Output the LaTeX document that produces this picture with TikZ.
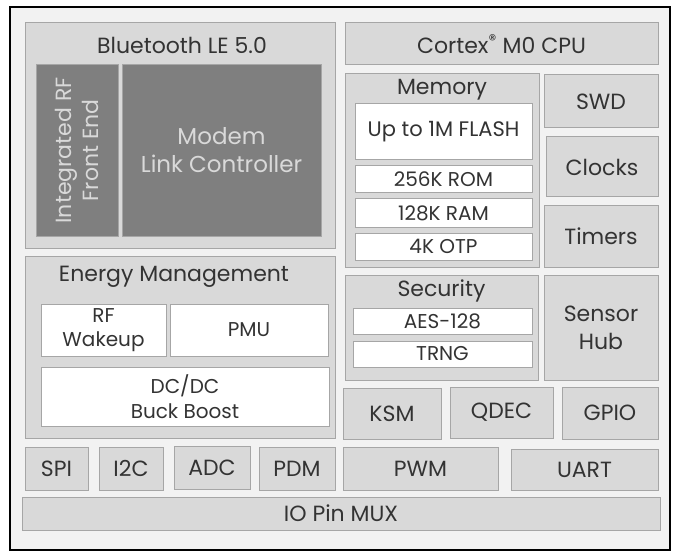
\documentclass[tikz,border=0pt]{standalone}
\usepackage{fontspec}
\setmainfont{Poppins}
\usepackage{xcolor}
\usepackage{tikz}
\usetikzlibrary{positioning}
\definecolor{blkfill}{HTML}{D9D9D9}
\definecolor{blkline}{HTML}{A6A6A6}
\definecolor{darkfill}{HTML}{7F7F7F}
\definecolor{txtgray}{HTML}{333333}
\definecolor{chipfill}{HTML}{F2F2F2}

\begin{document}
\begin{tikzpicture}[x=1pt, y=-1pt, font=\fontsize{22}{25}\selectfont, text=txtgray,
  blk/.style={draw=blkline, fill=blkfill, line width=1pt, align=center, inner sep=0pt},
  dark/.style={draw=blkline, fill=darkfill, line width=1pt, align=center, inner sep=0pt, text=blkfill},
  wbox/.style={draw=blkline, fill=white, line width=1pt, align=center, inner sep=0pt},
  small/.style={font=\fontsize{20}{22}\selectfont},
  ttl/.style={inner sep=0pt}]
  \useasboundingbox (0,0) rectangle (677,556);
  % chip outline
  \node[draw=black, fill=chipfill, line width=2pt, minimum width=660pt, minimum height=543pt, inner sep=0pt] (chip) at (340,278.5) {};
  % radio
  \node[blk, minimum width=310pt, minimum height=225pt] (bt) at (180,135.5) {};
  \node[ttl] (btt) at (182,45) {Bluetooth LE 5.0};
  \node[dark, minimum width=82pt, minimum height=171pt] (rf) at (77,150.5) {};
  \node[ttl, rotate=90, align=center, text=blkfill, font=\fontsize{22}{27}\selectfont] (rft) at (rf.center) {Integrated RF\\Front End};
  \node[dark, minimum width=199pt, minimum height=171pt, font=\fontsize{23}{28}\selectfont] (modem) at (221.5,150.5) {Modem\\Link Controller};
  % cpu and memory
  \node[blk, minimum width=313pt, minimum height=42pt] (cpu) at (501.5,44) {Cortex\textsuperscript{\textregistered} M0 CPU};
  \node[blk, minimum width=194pt, minimum height=193pt] (mem) at (442,170.5) {};
  \node[ttl] (memt) at (442,90) {Memory};
  \node[wbox, font=\fontsize{21}{24}\selectfont, minimum width=177pt, minimum height=56pt] (flash) at (443.5,132) {Up to 1M FLASH};
  \node[wbox, small, minimum width=177pt, minimum height=27pt] (rom) at (443.5,179.5) {256K ROM};
  \node[wbox, small, minimum width=177pt, minimum height=28pt] (ram) at (443.5,213) {128K RAM};
  \node[wbox, small, minimum width=177pt, minimum height=27pt] (otp) at (443.5,246.5) {4K OTP};
  \node[blk, minimum width=114pt, minimum height=53pt] (swd) at (601,101.5) {SWD};
  \node[blk, minimum width=112pt, minimum height=60pt] (clk) at (602,167) {Clocks};
  \node[blk, minimum width=114pt, minimum height=61pt] (tmr) at (601,236.5) {Timers};
  % power
  \node[blk, minimum width=310pt, minimum height=182pt] (pwr) at (180,347) {};
  \node[ttl] (pwrt) at (174,277) {Energy Management};
  \node[wbox, minimum width=125pt, minimum height=52pt, font=\fontsize{20}{24}\selectfont] (wake) at (103.5,330) {RF\\Wakeup};
  \node[wbox, minimum width=158pt, minimum height=52pt, font=\fontsize{20}{24}\selectfont] (pmu) at (249,330) {PMU};
  \node[wbox, minimum width=288pt, minimum height=59pt, font=\fontsize{20}{25}\selectfont] (dcdc) at (185,396.5) {DC/DC\\Buck Boost};
  % security
  \node[blk, minimum width=193pt, minimum height=105pt] (sec) at (441.5,327.5) {};
  \node[ttl] (sect) at (441.5,291) {Security};
  \node[wbox, small, minimum width=179pt, minimum height=26pt] (aes) at (442.5,321) {AES-128};
  \node[wbox, small, minimum width=179pt, minimum height=26pt] (trng) at (442.5,354) {TRNG};
  \node[blk, minimum width=114pt, minimum height=105pt, font=\fontsize{22}{28}\selectfont] (hub) at (601,327.5) {Sensor\\Hub};
  % peripherals
  \node[blk, minimum width=98pt, minimum height=51pt] (ksm) at (392,413.5) {KSM};
  \node[blk, minimum width=103pt, minimum height=51pt] (qdec) at (501.5,412.5) {QDEC};
  \node[blk, minimum width=96pt, minimum height=52pt] (gpio) at (610,413) {GPIO};
  \node[blk, minimum width=63pt, minimum height=43pt] (spi) at (56.5,468.5) {SPI};
  \node[blk, minimum width=64pt, minimum height=43pt] (i2c) at (131,468.5) {I2C};
  \node[blk, minimum width=76pt, minimum height=43pt] (adc) at (212,467.5) {ADC};
  \node[blk, minimum width=76pt, minimum height=43pt] (pdm) at (297,468.5) {PDM};
  \node[blk, minimum width=155pt, minimum height=43pt] (pwm) at (420.5,468.5) {PWM};
  \node[blk, minimum width=147pt, minimum height=41pt] (uart) at (584.5,469.5) {UART};
  \node[blk, minimum width=638pt, minimum height=33pt] (mux) at (341,513.5) {IO Pin MUX};
\end{tikzpicture}
\end{document}
